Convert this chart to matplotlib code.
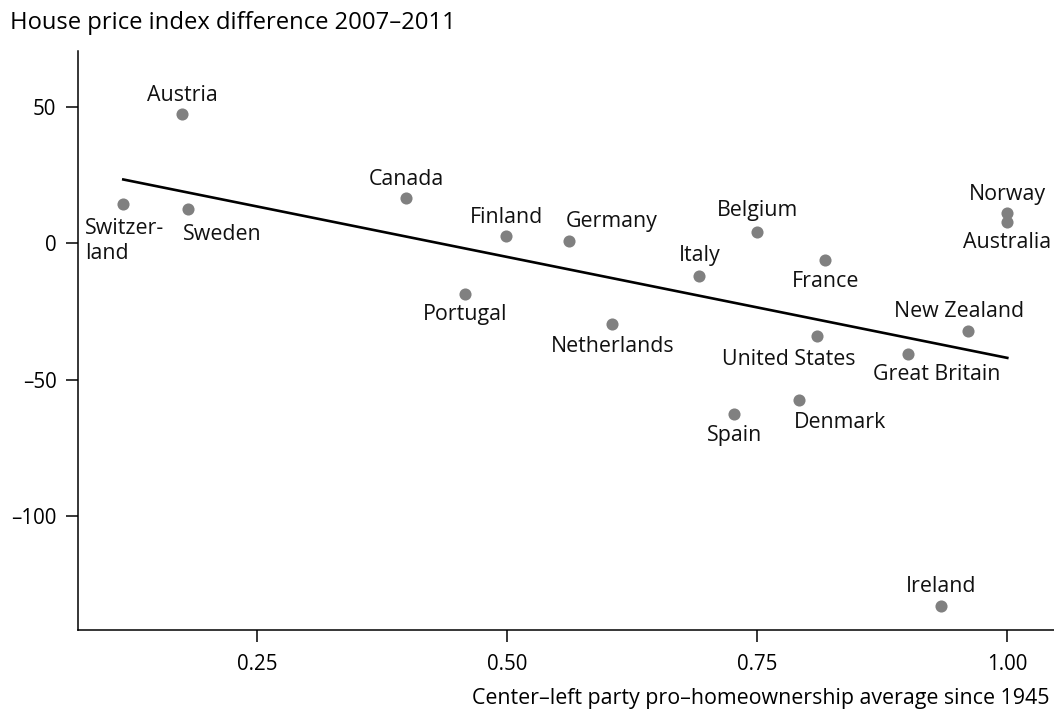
import numpy as np
import matplotlib
matplotlib.use("Agg")
import matplotlib.pyplot as plt

plt.rcParams['font.family'] = ['Open Sans', 'DejaVu Sans']

countries = ['Switzer-\nland', 'Austria', 'Sweden', 'Canada', 'Portugal', 'Finland',
             'Germany', 'Netherlands', 'Italy', 'Belgium', 'Spain', 'Denmark',
             'France', 'United States', 'Great Britain', 'New Zealand',
             'Norway', 'Australia', 'Ireland']
homeownership = [0.116, 0.175, 0.181, 0.399, 0.458, 0.499,
                 0.562, 0.605, 0.692, 0.750, 0.727, 0.792,
                 0.818, 0.810, 0.901, 0.961,
                 1.000, 1.000, 0.934]
price_diff = [14.5, 47.4, 12.7, 16.6, -18.6, 2.8,
              1.0, -29.7, -12.1, 4.1, -62.5, -57.5,
              -6.2, -33.8, -40.7, -32.1,
              11.0, 7.7, -132.9]

# label offsets in pixels (dx, dy of last baseline) and horizontal alignment
label_pos = {
    'Switzer-\nland': (-38, -55, 'left'),
    'Austria': (0, 13, 'center'),
    'Sweden': (-5, -31, 'left'),
    'Canada': (0, 13, 'center'),
    'Portugal': (0, -26, 'center'),
    'Finland': (0, 13, 'center'),
    'Germany': (-4, 14, 'left'),
    'Netherlands': (0, -28, 'center'),
    'Italy': (0, 15, 'center'),
    'Belgium': (0, 16, 'center'),
    'Spain': (0, -27, 'center'),
    'Denmark': (-5, -28, 'left'),
    'France': (0, -27, 'center'),
    'United States': (-29, -29, 'center'),
    'Great Britain': (28, -26, 'center'),
    'New Zealand': (-9, 14, 'center'),
    'Norway': (0, 13, 'center'),
    'Australia': (0, -26, 'center'),
    'Ireland': (0, 14, 'center'),
}

fs_label = 15.4
fs_tick = 14.8
fs_title = 17.1

fig = plt.figure(figsize=(10.54, 7.11), dpi=100)
ax = fig.add_axes([78 / 1054, 1 - 630 / 711, 1 - 78 / 1054, (630 - 50.7) / 711])

x = np.array(homeownership)
y = np.array(price_diff)
ax.scatter(x, y, s=76, color='#808080', zorder=3, linewidths=0)

slope, intercept = np.polyfit(x, y, 1)
xl = np.array([x.min(), x.max()])
ax.plot(xl, intercept + slope * xl, color='black', lw=1.9, zorder=2)

for c, xi, yi in zip(countries, x, y):
    dx, dy, ha = label_pos[c]
    ax.annotate(c, (xi, yi), xytext=(dx, dy), textcoords='offset pixels',
                ha=ha, va='baseline', fontsize=fs_label, color='#111111')

ax.set_xlim(0.0707, 1.0467)
ax.set_ylim(-141.6, 70.5)
ax.set_xticks([0.25, 0.50, 0.75, 1.00])
ax.set_xticklabels(['0.25', '0.50', '0.75', '1.00'])
ax.set_yticks([50, 0, -50, -100])
ax.set_yticklabels(['50', '0', '\u201350', '\u2013100'])

for s in ['top', 'right']:
    ax.spines[s].set_visible(False)
for s in ['left', 'bottom']:
    ax.spines[s].set_linewidth(1.1)
ax.tick_params(axis='both', direction='out', length=8.5, width=1.1,
               labelsize=fs_tick, colors='black')
ax.tick_params(axis='x', pad=9)
ax.tick_params(axis='y', pad=7)

fig.text(10 / 1054, 1 - 29.3 / 711, 'House price index difference 2007\u20132011',
         ha='left', va='baseline', fontsize=fs_title)
fig.text(1050 / 1054, 1 - 704 / 711,
         'Center\u2013left party pro\u2013homeownership average since 1945',
         ha='right', va='baseline', fontsize=fs_label)

fig.savefig('out.png', dpi=100)
